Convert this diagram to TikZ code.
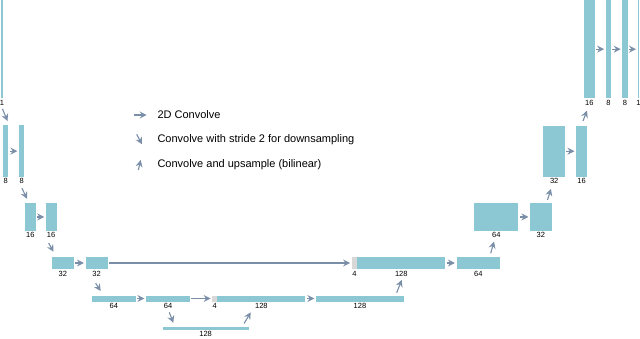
\documentclass[tikz,border=0pt]{standalone}
\usepackage{fontspec}
\setmainfont{Liberation Sans}
\usepackage{tikz}
\usetikzlibrary{positioning,arrows.meta}
\definecolor{unBlue}{RGB}{140,200,212}
\definecolor{unGray}{RGB}{216,216,216}
\definecolor{unArrow}{RGB}{122,142,168}

\tikzset{
  blk/.style={fill=unBlue, inner sep=0pt, outer sep=0pt, anchor=north west},
  pad/.style={fill=unGray, inner sep=0pt, outer sep=0pt, anchor=north west},
  lbl/.style={font=\fontsize{7.5}{8}\selectfont, inner sep=0pt},
  arr/.style={-{Stealth[length=7pt, width=7pt, inset=2.4pt]}, unArrow, line width=1.1pt},
  conv/.style={arr, shorten <=1.2pt, shorten >=1.6pt},
  key/.style={font=\fontsize{11}{13}\selectfont, inner sep=0pt, anchor=base west}
}

\begin{document}
\begin{tikzpicture}[x=1pt, y=1pt]
  \useasboundingbox (0,0) rectangle (640,338);

  % Encoder
  \node[blk, minimum width=1.5, minimum height=98] (in0) at (1.2,338) {};
  \node[blk, minimum width=5.3, minimum height=51.2] (e1a) at (3,212.5) {};
  \node[blk, minimum width=5.3, minimum height=51.2] (e1b) at (19,212.5) {};
  \node[blk, minimum width=10.7, minimum height=27.3] (e2a) at (25,134.7) {};
  \node[blk, minimum width=10.7, minimum height=27.3] (e2b) at (45.8,134.7) {};
  \node[blk, minimum width=22.3, minimum height=12.6] (e3a) at (51.7,81.3) {};
  \node[blk, minimum width=22.3, minimum height=12.6] (e3b) at (85.5,81.3) {};
  \node[blk, minimum width=44.3, minimum height=6] (e4a) at (91.7,42.5) {};
  \node[blk, minimum width=44, minimum height=6] (e4b) at (146,42.5) {};
  \node[blk, minimum width=85.8, minimum height=3.4] (b5) at (162.7,11) {};

  % Decoder
  \node[pad, minimum width=5.2, minimum height=6] (d4g) at (212.2,42.5) {};
  \node[blk, minimum width=88, minimum height=6] (d4) at (217.4,42.5) {};
  \node[blk, minimum width=88, minimum height=6] (d4b) at (316,42.5) {};
  \node[pad, minimum width=5.6, minimum height=12.6] (d3g) at (351.7,81.3) {};
  \node[blk, minimum width=88, minimum height=12.6] (d3) at (357.3,81.3) {};
  \node[blk, minimum width=43.8, minimum height=12.6] (d3b) at (456.5,81.3) {};
  \node[blk, minimum width=44, minimum height=27.3] (d2a) at (474.3,134.7) {};
  \node[blk, minimum width=21.8, minimum height=27.3] (d2b) at (530,134.7) {};
  \node[blk, minimum width=21.8, minimum height=51] (d1a) at (543.3,212.3) {};
  \node[blk, minimum width=11, minimum height=51] (d1b) at (576,212.3) {};
  \node[blk, minimum width=10.5, minimum height=98.3] (d0a) at (584,338) {};
  \node[blk, minimum width=5.4, minimum height=98.3] (d0b) at (605.7,338) {};
  \node[blk, minimum width=5.4, minimum height=98.3] (d0c) at (622.3,338) {};
  \node[blk, minimum width=1.6, minimum height=98.3] (d0d) at (637.6,338) {};

  % Channel counts
  \node[lbl, below=1.8pt of in0] (lin0) {1};
  \node[lbl, below=1.8pt of e1a] (le1a) {8};
  \node[lbl, below=1.8pt of e1b] (le1b) {8};
  \node[lbl, below=1.8pt of e2a] (le2a) {16};
  \node[lbl, below=1.8pt of e2b] (le2b) {16};
  \node[lbl, below=1.8pt of e3a] (le3a) {32};
  \node[lbl, below=1.8pt of e3b] (le3b) {32};
  \node[lbl, below=1.8pt of e4a] (le4a) {64};
  \node[lbl, below=1.8pt of e4b] (le4b) {64};
  \node[lbl, below=1pt of b5] (lb5) {128};
  \node[lbl, below=1.8pt of d4g] (ld4g) {4};
  \node[lbl, below=1.8pt of d4] (ld4) {128};
  \node[lbl, below=1.8pt of d4b] (ld4b) {128};
  \node[lbl, below=1.8pt of d3g] (ld3g) {4};
  \node[lbl, below=1.8pt of d3] (ld3) {128};
  \node[lbl, below=1.8pt of d3b] (ld3b) {64};
  \node[lbl, below=1.8pt of d2a] (ld2a) {64};
  \node[lbl, below=1.8pt of d2b] (ld2b) {32};
  \node[lbl, below=1.8pt of d1a] (ld1a) {32};
  \node[lbl, below=1.8pt of d1b] (ld1b) {16};
  \node[lbl, below=1.8pt of d0a] (ld0a) {16};
  \node[lbl, below=1.8pt of d0b] (ld0b) {8};
  \node[lbl, below=1.8pt of d0c] (ld0c) {8};
  \node[lbl, below=1.8pt of d0d] (ld0d) {1};

  % 2D convolutions
  \draw[conv] (e1a) -- (e1b);
  \draw[conv] (e2a) -- (e2b);
  \draw[conv] (e3a) -- (e3b);
  \draw[conv] (e4a) -- (e4b);
  \draw[conv] (e4b) -- (d4g);
  \draw[conv] (d4) -- (d4b);
  \draw[conv] (e3b) -- (d3g);
  \draw[conv] (d3) -- (d3b);
  \draw[conv] (d2a) -- (d2b);
  \draw[conv] (d1a) -- (d1b);
  \draw[conv] (d0a) -- (d0b);
  \draw[conv] (d0b) -- (d0c);
  \draw[conv] (d0c) -- (d0d);

  % Downsampling
  \draw[arr] ([shift={(0.5,-3.5)}]lin0.south) -- ([shift={(4.5,4.5)}]e1a.north west);
  \draw[arr] ([shift={(0.3,-4)}]le1b.south) -- ([shift={(2,4.5)}]e2a.north west);
  \draw[arr] ([shift={(-2.5,-5)}]le2b.south) -- ([shift={(1.8,5)}]e3a.north west);
  \draw[arr] ([shift={(-1,-6.5)}]le3b.south) -- ([shift={(9,4.5)}]e4a.north west);
  \draw[arr] ([shift={(1.3,-3.3)}]le4b.south) -- ([shift={(10.6,4.2)}]b5.north west);

  % Upsampling
  \draw[arr] ([shift={(-4.4,3.5)}]b5.north east) -- ([shift={(-10.7,-3.3)}]ld4.south);
  \draw[arr] ([shift={(-7.3,2.8)}]d4b.north east) -- ([shift={(0.4,-3.1)}]ld3.south);
  \draw[arr] ([shift={(-9.6,3.4)}]d3b.north east) -- ([shift={(-2.3,-3.4)}]ld2a.south);
  \draw[arr] ([shift={(-4.3,3.3)}]d2b.north east) -- ([shift={(-3.3,-4.7)}]ld1a.south);
  \draw[arr] ([shift={(-4,4.7)}]d1b.north east) -- ([shift={(-2.3,-4.8)}]ld0a.south);

  % Legend
  \coordinate (k1a) at (134,223);
  \coordinate (k1b) at (146.7,223);
  \coordinate (k2a) at (136.7,203.7);
  \coordinate (k2b) at (142,193.7);
  \coordinate (k3a) at (138.3,168);
  \coordinate (k3b) at (140.7,178);
  \draw[arr] (k1a) -- (k1b);
  \draw[arr] (k2a) -- (k2b);
  \draw[arr] (k3a) -- (k3b);
  \node[key] (t1) at (157.3,219.7) {2D Convolve};
  \node[key] (t2) at (157.3,195.3) {Convolve with stride 2 for downsampling};
  \node[key] (t3) at (157.3,170.5) {Convolve and upsample (bilinear)};
\end{tikzpicture}
\end{document}
